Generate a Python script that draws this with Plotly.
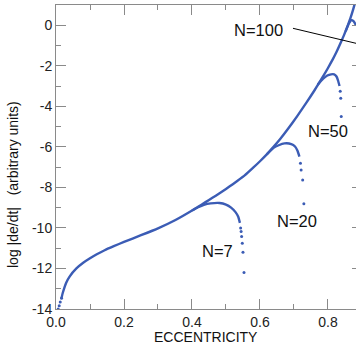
import plotly.graph_objects as go

# ---- data ----
# common (envelope) curve
e_base = [0.016, 0.020, 0.030, 0.040, 0.060, 0.080, 0.100, 0.120, 0.143, 0.170, 0.200,
          0.250, 0.300, 0.350, 0.404, 0.430, 0.450, 0.470, 0.490, 0.510, 0.530, 0.555,
          0.580, 0.600, 0.620, 0.643, 0.660, 0.682, 0.710, 0.736, 0.760, 0.785, 0.800,
          0.814, 0.826, 0.839, 0.848, 0.858, 0.866, 0.873, 0.8824]
y_base = [-13.47, -13.20, -12.70, -12.40, -12.00, -11.72, -11.50, -11.30, -11.10, -10.90, -10.69,
          -10.36, -10.02, -9.62, -9.10, -8.83, -8.62, -8.41, -8.19, -7.96, -7.72, -7.41,
          -7.03, -6.71, -6.37, -5.94, -5.60, -5.12, -4.47, -3.83, -3.22, -2.54, -2.11,
          -1.68, -1.28, -0.80, -0.45, -0.02, 0.35, 0.72, 1.28]
# sparse start of the curve
e_start = [0.0065, 0.0094, 0.0124, 0.0162]
y_start = [-14.0, -13.84, -13.65, -13.47]

# N=7 branch
e_n7 = [0.400, 0.418, 0.435, 0.455, 0.481, 0.500, 0.515, 0.528, 0.536, 0.541]
y_n7 = [-9.14, -8.98, -8.86, -8.79, -8.77, -8.85, -9.00, -9.22, -9.45, -9.75]
e_n7_tail = [0.543, 0.5445, 0.546, 0.548, 0.550, 0.553]
y_n7_tail = [-10.00, -10.18, -10.42, -10.75, -11.20, -12.20]

# N=20 branch
e_n20 = [0.620, 0.640, 0.655, 0.672, 0.692, 0.703, 0.710, 0.716]
y_n20 = [-6.37, -6.05, -5.92, -5.83, -5.86, -5.98, -6.18, -6.48]
e_n20_tail = [0.719, 0.721, 0.7255, 0.729]
y_n20_tail = [-6.81, -7.14, -7.63, -8.81]

# N=50 branch
e_n50 = [0.770, 0.785, 0.798, 0.809, 0.818, 0.825, 0.830, 0.834]
y_n50 = [-2.93, -2.65, -2.48, -2.42, -2.42, -2.53, -2.75, -3.00]
e_n50_tail = [0.836, 0.8375, 0.839]
y_n50_tail = [-3.25, -3.60, -4.50]

# N=100 branch
e_n100 = [0.852, 0.862, 0.869, 0.875, 0.8824]
y_n100 = [-0.30, 0.10, 0.25, 0.20, 0.00]

# labels
label_text = ["N=100", "N=50", "N=20", "N=7"]
label_x = [0.596, 0.801, 0.710, 0.475]
label_y = [-0.25, -5.22, -9.65, -11.13]
pointer_x = [0.697, 0.8824]
pointer_y = [-0.15, -0.89]

x_tickvals = [0.0, 0.2, 0.4, 0.6, 0.8]
x_ticktext = ["0.0", "0.2", "0.4", "0.6", "0.8"]
y_tickvals = [0, -2, -4, -6, -8, -10, -12, -14]
y_ticktext = ["0", "-2", "-4", "-6", "-8", "-10", "-12", "-14"]

BLUE = "#3b5cb5"
AX = "#8a8a8a"
FONT = "Arial, Liberation Sans, sans-serif"

fig = go.Figure()
line = dict(color=BLUE, width=2.4)
mk = dict(color=BLUE, size=3)

for xs, ys in [(e_base, y_base), (e_n7, y_n7), (e_n20, y_n20), (e_n50, y_n50), (e_n100, y_n100)]:
    fig.add_trace(go.Scatter(x=xs, y=ys, mode="lines", line=dict(line, shape="spline", smoothing=0.5),
                             hoverinfo="skip", showlegend=False))
for xs, ys in [(e_start, y_start), (e_n7_tail, y_n7_tail), (e_n20_tail, y_n20_tail), (e_n50_tail, y_n50_tail)]:
    fig.add_trace(go.Scatter(x=xs, y=ys, mode="markers", marker=mk, hoverinfo="skip", showlegend=False))

# pointer line for N=100
fig.add_trace(go.Scatter(x=pointer_x, y=pointer_y, mode="lines", line=dict(color="black", width=1),
                         hoverinfo="skip", showlegend=False))

# invisible trace to activate right y axis (ticks only)
fig.add_trace(go.Scatter(x=[0.1], y=[-20], yaxis="y2", mode="markers", marker=dict(opacity=0),
                         hoverinfo="skip", showlegend=False))

for t, x, y in zip(label_text, label_x, label_y):
    fig.add_annotation(x=x, y=y, text=t, showarrow=False, xanchor="center", yanchor="middle",
                       font=dict(family=FONT, size=16.5, color="#111111"))

fig.add_annotation(xref="paper", yref="paper", x=0.5, y=(309 - 337) / 304, text="ECCENTRICITY",
                   showarrow=False, xanchor="center", yanchor="middle",
                   font=dict(family=FONT, size=14, color="#111111"))
fig.add_annotation(xref="paper", yref="paper", x=(13 - 56) / 300, y=(309 - 185) / 304,
                   text="log |de/dt|   (arbitrary units)", textangle=-90,
                   showarrow=False, xanchor="center", yanchor="middle",
                   font=dict(family=FONT, size=14, color="#111111"))

fig.update_layout(
    width=356, height=351,
    margin=dict(l=56, r=0, t=5, b=42),
    paper_bgcolor="white", plot_bgcolor="white",
    font=dict(family=FONT, size=14, color="#222222"),
    xaxis=dict(range=[0, 0.8824], showgrid=False, zeroline=False,
               showline=True, linecolor=AX, linewidth=1, mirror="ticks",
               ticks="inside", ticklen=10, tickcolor=AX, tickwidth=1,
               tickvals=x_tickvals, ticktext=x_ticktext,
               minor=dict(dtick=0.1, ticks="inside", ticklen=5, tickcolor=AX, tickwidth=1, showgrid=False),
               tickfont=dict(family=FONT, size=14, color="#222222")),
    yaxis=dict(range=[-14, 1], showgrid=False, zeroline=False,
               showline=True, linecolor=AX, linewidth=1, mirror=False,
               ticks="inside", ticklen=10, tickcolor=AX, tickwidth=1,
               tickvals=y_tickvals, ticktext=y_ticktext,
               minor=dict(dtick=1, tick0=0, ticks="inside", ticklen=5, tickcolor=AX, tickwidth=1, showgrid=False),
               tickfont=dict(family=FONT, size=14, color="#222222")),
    yaxis2=dict(range=[-14, 1], overlaying="y", side="right", showgrid=False, zeroline=False,
                showline=False, ticks="inside", ticklen=4, tickcolor=AX, tickwidth=1,
                tickvals=y_tickvals, showticklabels=False),
)

fig.write_html("out.html", config={"displayModeBar": False},
               post_script="document.body.style.margin='0';document.body.style.overflow='hidden';")
